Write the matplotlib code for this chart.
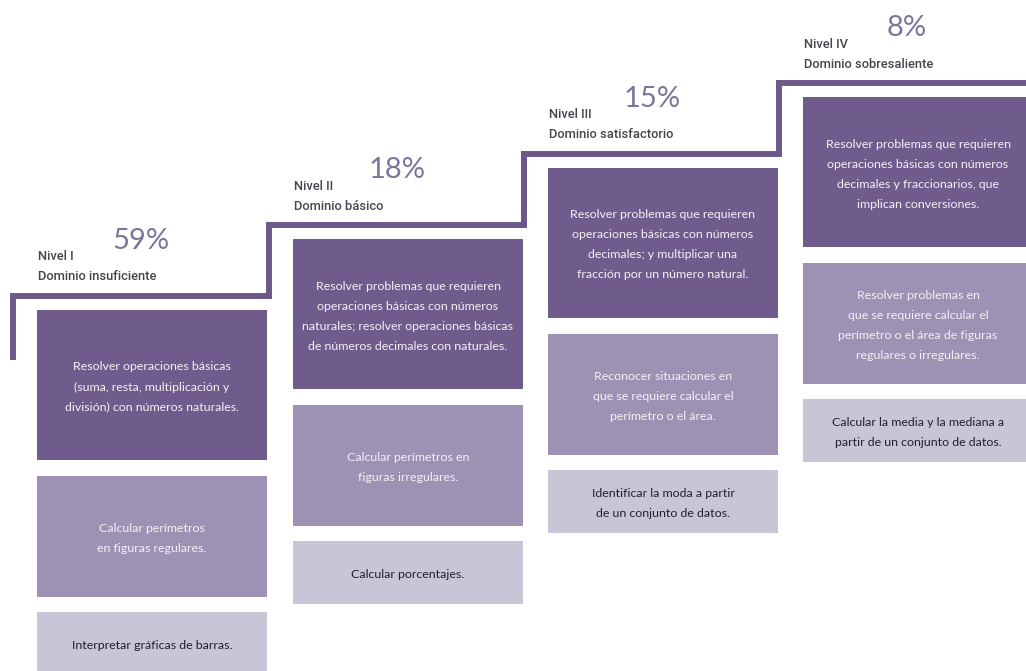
import matplotlib
matplotlib.use("Agg")
import matplotlib.pyplot as plt

# data
niveles = ["Nivel I", "Nivel II", "Nivel III", "Nivel IV"]
dominios = ["Dominio insuficiente", "Dominio básico",
            "Dominio satisfactorio", "Dominio sobresaliente"]
porcentajes = [59, 18, 15, 8]

tareas_1 = [
    "Resolver operaciones básicas\n(suma, resta, multiplicación y\ndivisión) con números naturales.",
    "Resolver problemas que requieren\noperaciones básicas con números\nnaturales; resolver operaciones básicas\nde números decimales con naturales.",
    "Resolver problemas que requieren\noperaciones básicas con números\ndecimales; y multiplicar una\nfracción por un número natural.",
    "Resolver problemas que requieren\noperaciones básicas con números\ndecimales y fraccionarios, que\nimplican conversiones.",
]
tareas_2 = [
    "Calcular perímetros\nen figuras regulares.",
    "Calcular perímetros en\nfiguras irregulares.",
    "Reconocer situaciones en\nque se requiere calcular el\nperímetro o el área.",
    "Resolver problemas en\nque se requiere calcular el\nperímetro o el área de figuras\nregulares o irregulares.",
]
tareas_3 = [
    "Interpretar gráficas de barras.",
    "Calcular porcentajes.",
    "Identificar la moda a partir\nde un conjunto de datos.",
    "Calcular la media y la mediana a\npartir de un conjunto de datos.",
]

# layout (pixels of a 1026x671 canvas)
col_left = [37, 293, 548, 803]
col_top = [310, 239, 168, 97]
col_w = 230
box_h = [150, 121, 63]
box_gap = [16, 15]
col_dark = "#6f5c8d"
col_mid = "#9d92b4"
col_light = "#c9c4d6"
line_col = "#6c598a"

fig = plt.figure(figsize=(10.26, 6.71), dpi=100)
ax = fig.add_axes([0, 0, 1, 1])
ax.set_xlim(0, 1026)
ax.set_ylim(671, 0)
ax.axis("off")

# staircase line
xs, ys = [col_left[0] - 24], [360]
for i, (x, t) in enumerate(zip(col_left, col_top)):
    xs.append(x - 24)
    ys.append(t - 14)
    nx = col_left[i + 1] - 24 if i + 1 < len(col_left) else 1030
    xs.append(nx)
    ys.append(t - 14)
ax.plot(xs, ys, color=line_col, lw=4.3, solid_joinstyle="miter", solid_capstyle="butt")

for i in range(4):
    x = col_left[i]
    top = col_top[i]
    tops = [top, top + box_h[0] + box_gap[0],
            top + box_h[0] + box_gap[0] + box_h[1] + box_gap[1]]
    cols = [col_dark, col_mid, col_light]
    texts = [tareas_1[i], tareas_2[i], tareas_3[i]]
    tcols = ["#f3f0f7", "#f3f0f7", "#231f30"]
    for j in range(3):
        h = box_h[j]
        if i == 0 and j == 2:
            h = 671 - tops[j] + 5
        ax.bar(x, h, width=col_w, bottom=tops[j], align="edge",
               color=cols[j], edgecolor="none")
        cy = tops[j] + box_h[j] / 2 + 2
        ax.text(x + col_w / 2, cy, texts[j], ha="center", va="center",
                color=tcols[j], fontsize=8.9, family="Lato",
                linespacing=2.0)
    # labels
    ax.text(x + 1, top - 53, niveles[i], ha="left", va="center",
            color="#47454c", fontsize=9.3, family="Roboto", fontweight="medium")
    ax.text(x + 1, top - 33, dominios[i], ha="left", va="center",
            color="#47454c", fontsize=9.3, family="Roboto", fontweight="medium")
    ax.text(x + 104, top - 69, f"{porcentajes[i]}%", ha="center", va="center",
            color="#7e7399", fontsize=21, family="Lato")

fig.savefig("out.png", dpi=100)
